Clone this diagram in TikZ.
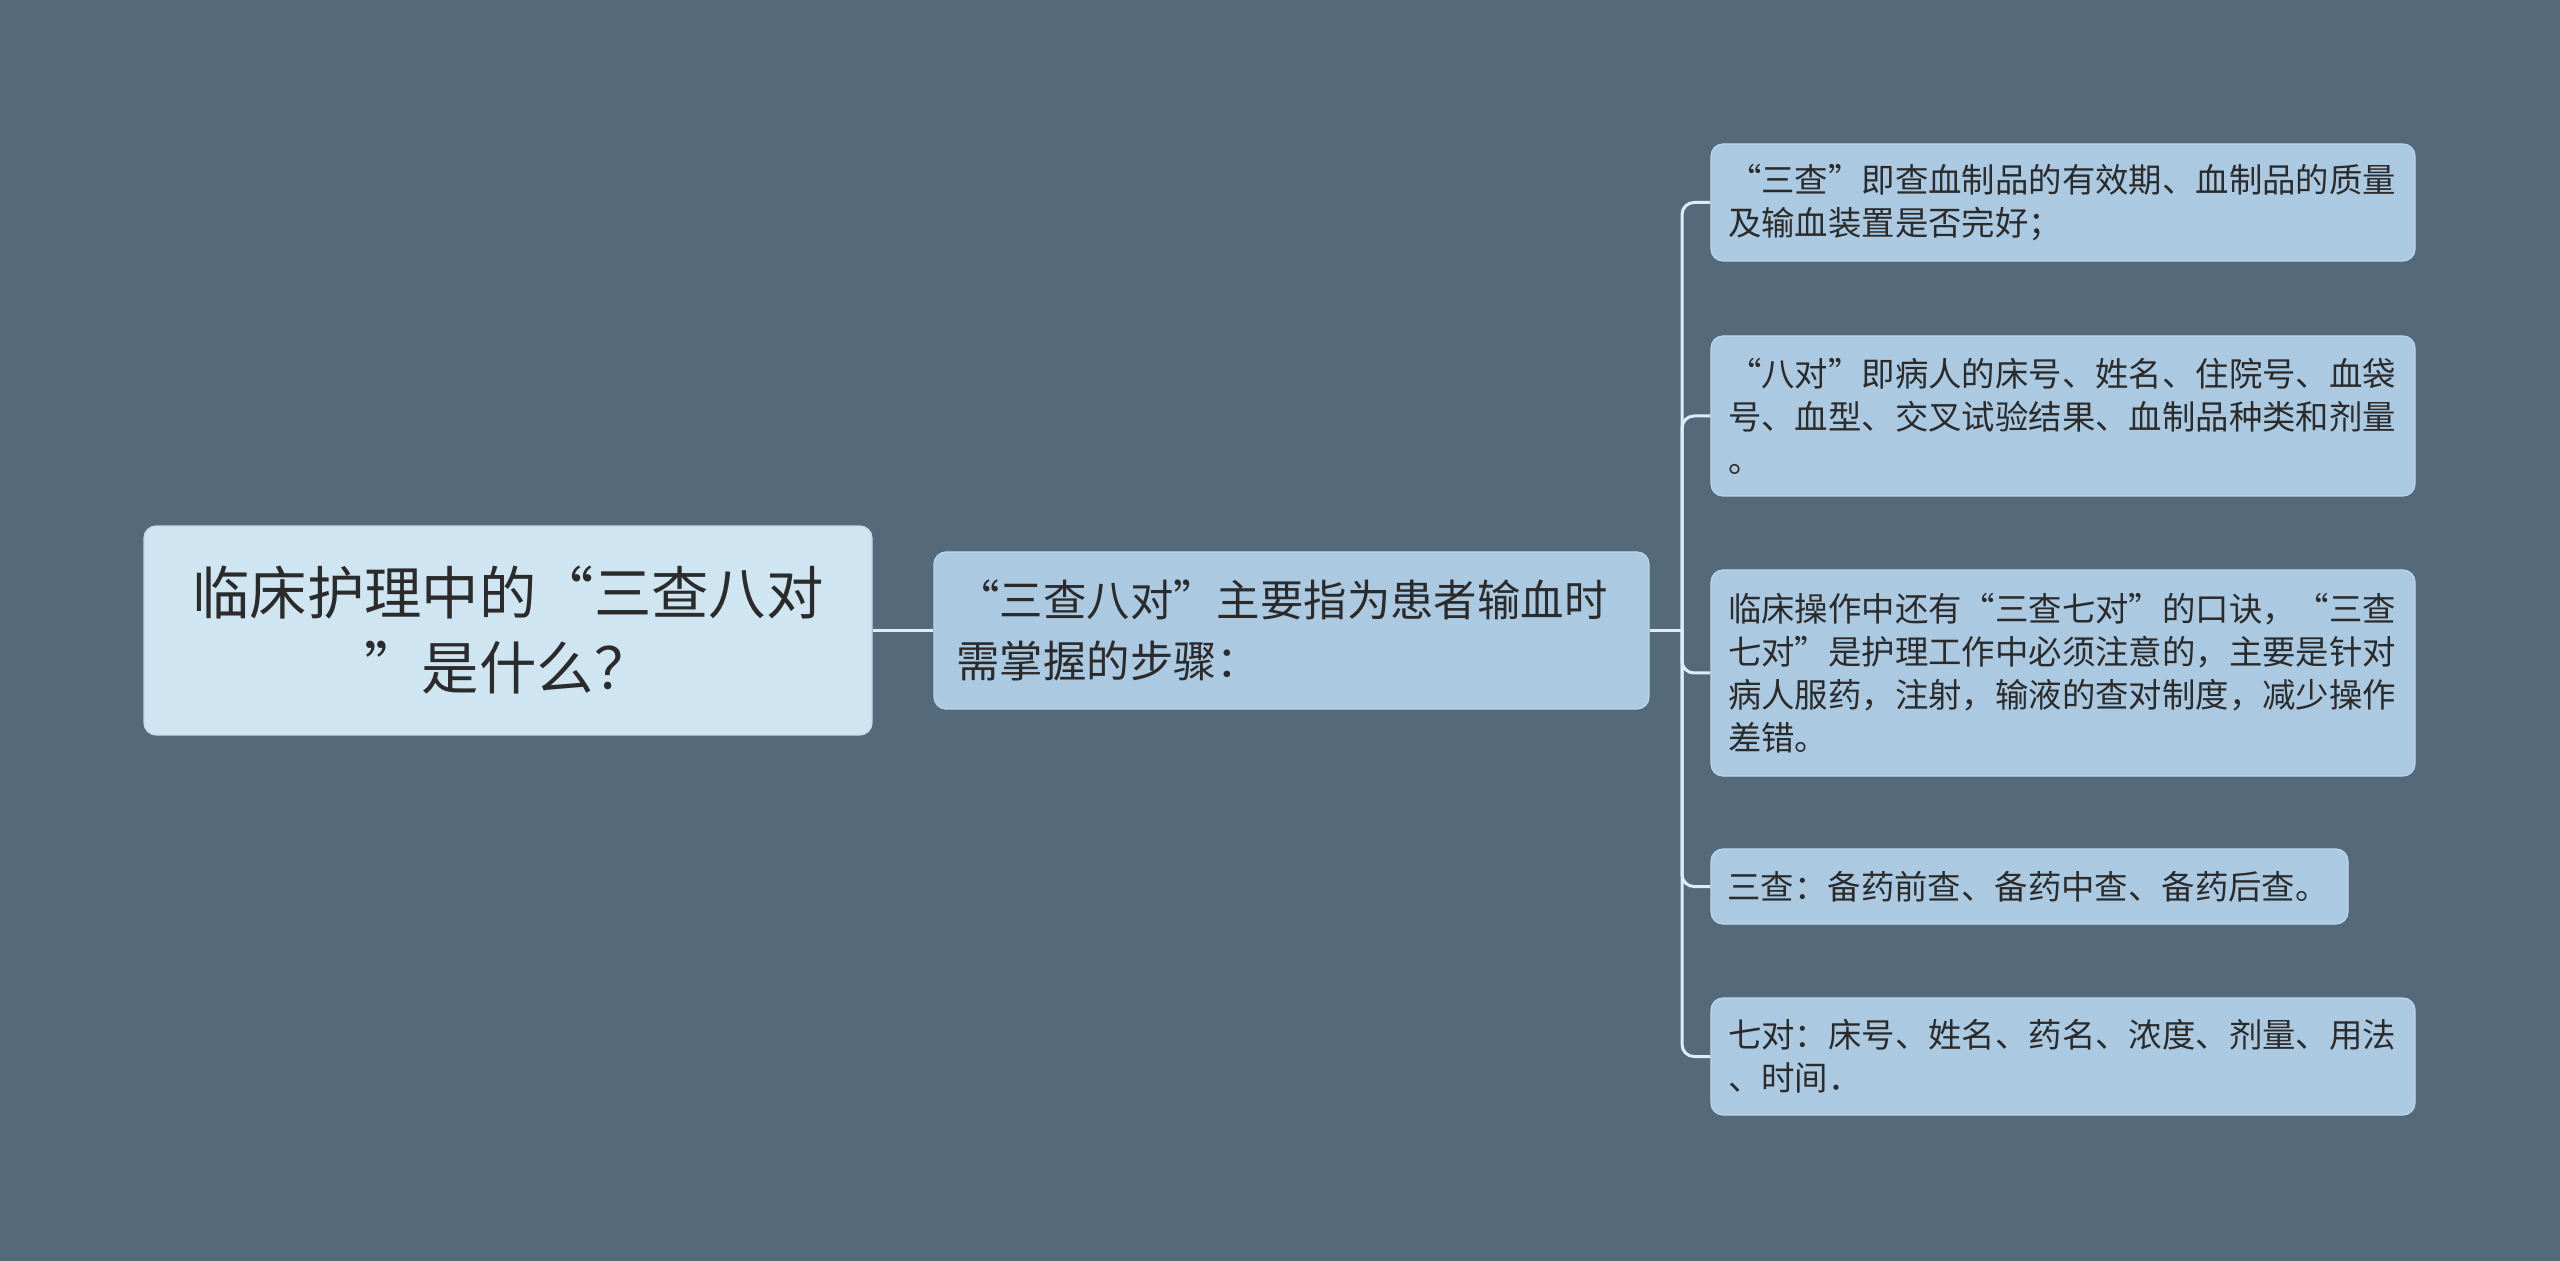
\documentclass[tikz,border=0pt]{standalone}
\usepackage{fontspec}
\newfontfamily\cjk{Noto Sans CJK SC}
\usepackage{tikz}
\usetikzlibrary{positioning}
\usepackage{xcolor}
\definecolor{bgslate}{HTML}{546A7A}
\definecolor{rootfill}{HTML}{CFE5F2}
\definecolor{rootedge}{HTML}{BFD9EA}
\definecolor{leaffill}{HTML}{ABCAE1}
\definecolor{leafedge}{HTML}{BCD6EA}
\definecolor{linkcol}{HTML}{DAEDF8}
\definecolor{inkcol}{HTML}{2B2B2B}

\begin{document}
\begin{tikzpicture}[x=0.5pt, y=-0.5pt,
		box/.style={rectangle, rounded corners=6pt, draw=leafedge, line width=0.6pt, fill=leaffill, text=inkcol, inner ysep=0pt, align=left},
		rootbox/.style={box, fill=rootfill, draw=rootedge, font=\cjk\fontsize{28.7pt}{37.5pt}\selectfont, text width=330pt, inner xsep=17pt, minimum height=104.5pt, align=center},
		midbox/.style={box, font=\cjk\fontsize{21.7pt}{30.2pt}\selectfont, text width=335pt, inner xsep=11.25pt, minimum height=78.5pt},
		leafbox/.style={box, font=\cjk\fontsize{16.7pt}{21.5pt}\selectfont, text width=335pt, inner xsep=8.5pt},
		link/.style={draw=linkcol, line width=1.5pt, rounded corners=6pt}]
	% canvas
	\fill[bgslate] (0,0) rectangle (2560,1261);
	\useasboundingbox (0,0) rectangle (2560,1261);

	% root and main branch
	\node[rootbox] (root) at (508,630.5) {临床护理中的“三查八对\\”是什么？};
	\node[midbox] (mid) at (1291.5,630.5) {“三查八对”主要指为患者输血时\\需掌握的步骤：};

	% leaves
	\node[leafbox, minimum height=58.5pt] (sancha) at (2063,202.5) {“三查”即查血制品的有效期、血制品的质量\\及输血装置是否完好；};
	\node[leafbox, minimum height=80pt] (badui) at (2063,416) {“八对”即病人的床号、姓名、住院号、血袋\\号、血型、交叉试验结果、血制品种类和剂量\\。};
	\node[leafbox, minimum height=103pt] (koujue) at (2063,673) {临床操作中还有“三查七对”的口诀，“三查\\七对”是护理工作中必须注意的，主要是针对\\病人服药，注射，输液的查对制度，减少操作\\差错。};
	\node[leafbox, text width=302pt, inner xsep=8.25pt, minimum height=37.5pt] (beiyao) at (2029.5,886.5) {三查：备药前查、备药中查、备药后查。};
	\node[leafbox, minimum height=58.5pt] (qidui) at (2063,1056.5) {七对：床号、姓名、药名、浓度、剂量、用法\\、时间．};

	% connectors
	\coordinate (hub) at (1682,630.5);
	\draw[link] (root.east) -- (mid.west);
	\draw[link] (mid.east) -- (hub);
	\foreach \leaf in {sancha,badui,koujue,beiyao,qidui}
		\draw[link] (hub) |- (\leaf.west);
\end{tikzpicture}
\end{document}
